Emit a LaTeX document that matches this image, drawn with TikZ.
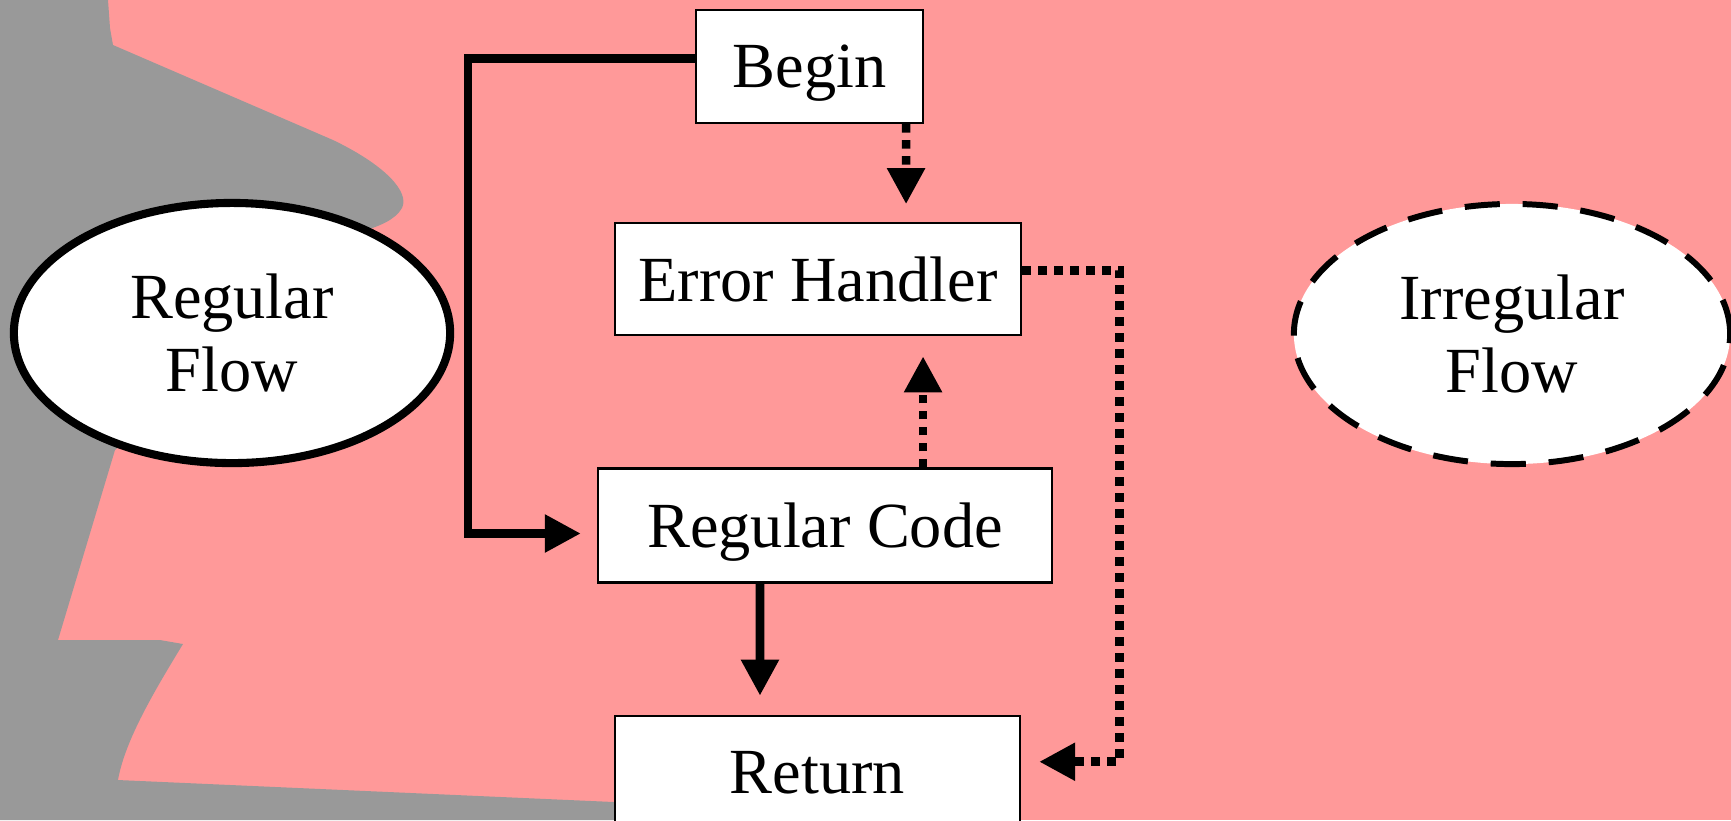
\documentclass[tikz,border=0pt]{standalone}
\usepackage{fontspec}
\setmainfont{Liberation Serif}
\definecolor{flowpink}{RGB}{255,153,153}
\definecolor{flowgrey}{RGB}{153,153,153}
\usetikzlibrary{calc}
\usetikzlibrary{positioning}
\usetikzlibrary{shapes.geometric}
\usetikzlibrary{arrows.meta}
\tikzset{
  % boxes, flows and connectors of the chart
  stage/.style={draw, fill=white, line width=0.6pt, inner sep=0pt, text depth=0pt},
  flow/.style={ellipse, draw, fill=white, minimum width=4.36cm, minimum height=2.6cm, inner sep=0pt, align=center},
  flowarrow/.style={line width=2.45pt, -{Triangle[length=3.6mm, width=3.6mm]}},
  failarrow/.style={flowarrow, dash pattern=on 2.45pt off 2.1pt}
}

\begin{document}
\begin{tikzpicture}[x=0.01cm, y=-0.01cm, font=\fontsize{18.3}{21}\selectfont]

  \useasboundingbox (0,0) rectangle (1731,820);
  \fill [flowpink] (0,0) rectangle (1731,820);
  % grey backdrop on the left
  \fill [flowgrey] (0,0) -- (108,0) -- (110,28) -- (113,45) -- (333,140)
    .. controls (385,165) and (410,192) .. (402,208)
    .. controls (395,220) and (380,226) .. (360,232)
    -- (150,420) -- (115,450) -- (58,640) -- (160,640) -- (183,644)
    .. controls (155,690) and (125,740) .. (118,780)
    -- (614,802) -- (800,808) -- (800,820) -- (0,820) -- cycle;

  \node [stage, minimum width=2.27cm, minimum height=1.13cm] (begin) at (809.5,66.5) {Begin};
  \node [stage, minimum width=4.06cm, minimum height=1.12cm, below=0.98cm of begin, xshift=0.85mm] (handler) {Error Handler};
  \node [stage, minimum width=4.54cm, minimum height=1.14cm, below=1.31cm of handler, xshift=0.7mm] (code) {Regular Code};
  \node [stage, minimum width=4.05cm, minimum height=1.14cm, below=1.31cm of code, xshift=-0.75mm] (return) {Return};

  \node [flow, line width=2.3pt] (regular) at (232,333) {Regular\\Flow};
  \node [flow, line width=1.7pt, dash pattern=on 10pt off 6.5pt] (irregular) at (1512,334) {Irregular\\Flow};

  \draw [flowarrow, shorten >=1.6mm] ([yshift=0.8mm]begin.west) -- ++(-227,0) |- ([yshift=-0.8mm]code.west);
  \draw [flowarrow, shorten >=1.9mm] ([xshift=-6.5mm]code.south) -- ([xshift=-5.75mm]return.north);

  \draw [failarrow, shorten >=1.8mm] ([xshift=9.65mm]begin.south) -- ([xshift=8.8mm]handler.north);
  \draw [failarrow, shorten >=2mm] ([xshift=9.8mm]code.north) -- ([xshift=10.5mm]handler.south);
  \draw [failarrow, shorten >=1.8mm] ([yshift=0.9mm]handler.east) -- ++(97,0) |- ([yshift=1.1mm]return.east);

\end{tikzpicture}
\end{document}
